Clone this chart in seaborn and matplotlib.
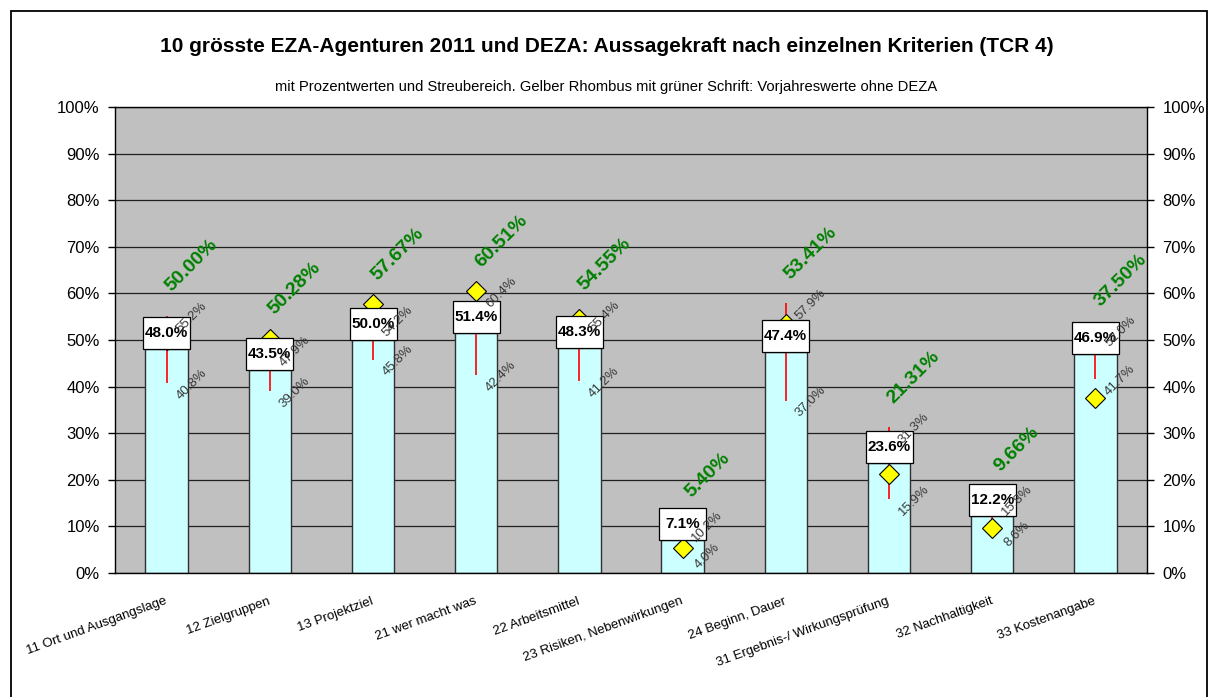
import pandas as pd
import numpy as np
import matplotlib
matplotlib.use('Agg')
import matplotlib.pyplot as plt
import matplotlib.transforms as mtransforms
import seaborn as sns
from matplotlib.patches import Rectangle
from matplotlib.ticker import PercentFormatter

# Data
kategorien = ['11 Ort und Ausgangslage', '12 Zielgruppen', '13 Projektziel',
              '21 wer macht was', '22 Arbeitsmittel', '23 Risiken, Nebenwirkungen',
              '24 Beginn, Dauer', '31 Ergebnis-/ Wirkungsprüfung',
              '32 Nachhaltigkeit', '33 Kostenangabe']
werte = [48.0, 43.5, 50.0, 51.4, 48.3, 7.1, 47.4, 23.6, 12.2, 46.9]
untere = [40.8, 39.0, 45.8, 42.4, 41.2, 4.0, 37.0, 15.9, 8.6, 41.7]
obere = [55.2, 47.9, 54.2, 60.4, 55.4, 10.2, 57.9, 31.3, 15.8, 52.0]
vorjahr = [50.00, 50.28, 57.67, 60.51, 54.55, 5.40, 53.41, 21.31, 9.66, 37.50]

df = pd.DataFrame({'kategorie': kategorien, 'wert': werte, 'unten': untere,
                   'oben': obere, 'vorjahr': vorjahr})

sns.set_style("white")
plt.rcParams['font.family'] = ['Liberation Sans', 'DejaVu Sans']
plt.rcParams['text.color'] = 'black'
plt.rcParams['xtick.color'] = 'black'
plt.rcParams['ytick.color'] = 'black'

fig = plt.figure(figsize=(12.13, 6.97), dpi=100)
ax = fig.add_axes([115 / 1213, 124 / 697, 1032 / 1213, 466 / 697])
ax.set_facecolor('#C0C0C0')

# Bars
sns.barplot(data=df, x='kategorie', y='wert', color='#CCFFFF', saturation=1,
            width=0.41, edgecolor='#303030', linewidth=1, ax=ax, zorder=2)

x = np.arange(len(df))
ax.set_ylim(0, 100)
ax.set_xlim(-0.5, len(df) - 0.5)

# Scatter range (red line)
ax.vlines(x, df['unten'], df['oben'], color='red', lw=1.2, zorder=3)

# Previous-year diamonds
ax.plot(x, df['vorjahr'], linestyle='none', marker='D', markersize=10.5,
        markerfacecolor='#FFFF00', markeredgecolor='black', markeredgewidth=0.8,
        zorder=4)

box_w, box_h = 0.47, 0.32  # inches
for i, row in df.iterrows():
    # white box with value, sitting on top of the bar
    trans = fig.dpi_scale_trans + mtransforms.ScaledTranslation(i, row['wert'], ax.transData)
    ax.add_patch(Rectangle((-box_w / 2, 0), box_w, box_h, transform=trans,
                           facecolor='white', edgecolor='black', lw=0.9, zorder=5,
                           clip_on=False))
    ax.annotate(f"{row['wert']:.1f}%", xy=(i, row['wert']), xytext=(0, box_h * 72 / 2),
                textcoords='offset points', ha='center', va='center',
                fontsize=11, fontweight='bold', color='black', zorder=6)
    # high / low labels
    for val in (row['oben'], row['unten']):
        ax.annotate(f"{val:.1f}%", xy=(i, val), xytext=(18, -1),
                    textcoords='offset points', ha='center', va='center',
                    rotation=45, fontsize=9.5, color='#383838', zorder=7)
    # green previous-year label
    top = max(row['oben'], row['vorjahr'])
    ax.annotate(f"{row['vorjahr']:.2f}%", xy=(i, top), xytext=(18, 36),
                textcoords='offset points', ha='center', va='center',
                rotation=45, fontsize=14, fontweight='bold', color='#008000',
                zorder=7)

ax.set_yticks(np.arange(0, 101, 10))
ax.yaxis.set_major_formatter(PercentFormatter(decimals=0))
ax.grid(axis='y', color='#202020', lw=0.9, zorder=1)
ax.set_axisbelow(True)

# category separator ticks
ax.set_xticks(np.arange(-0.5, len(df), 1), minor=True)
ax.tick_params(axis='x', which='minor', direction='inout', length=8, width=1, color='black')
ax.tick_params(axis='x', which='major', length=0, pad=20, labelsize=9.5)
for lab in ax.get_xticklabels():
    lab.set_rotation(20)
    lab.set_ha('right')
    lab.set_va('center')
    lab.set_rotation_mode('anchor')

ax.tick_params(axis='y', which='major', direction='out', length=5, width=1,
               color='black', labelsize=12, left=True, right=True,
               labelleft=True, labelright=True, pad=6)
ax.set_xlabel('')
ax.set_ylabel('')
for s in ax.spines.values():
    s.set_color('black')
    s.set_linewidth(1)

fig.text(0.5, 1 - 47 / 697, '10 grösste EZA-Agenturen 2011 und DEZA: Aussagekraft nach einzelnen Kriterien (TCR 4)',
         ha='center', va='center', fontsize=15, fontweight='bold')
fig.text(0.5, 1 - 87 / 697, 'mit Prozentwerten und Streubereich. Gelber Rhombus mit grüner Schrift: Vorjahreswerte ohne DEZA',
         ha='center', va='center', fontsize=10.6)

# outer frame
fig.patches.append(Rectangle((11 / 1213, -0.01), 1196 / 1213, 0.9942, transform=fig.transFigure,
                             fill=False, edgecolor='black', lw=1.3))

plt.savefig('out.png', dpi=100)
plt.close()
